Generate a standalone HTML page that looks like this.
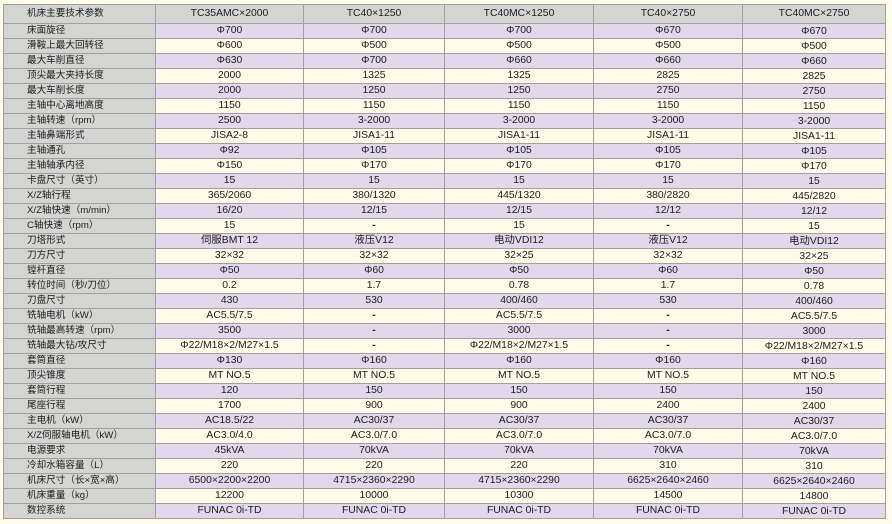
<!DOCTYPE html>
<html><head><meta charset="utf-8">
<style>
html,body{margin:0;padding:0;background:#fffbe8;}
body{width:892px;height:524px;position:relative;overflow:hidden;
font-family:"Liberation Sans","Noto Sans CJK SC",sans-serif;font-size:10.4px;color:#1c1c1c;}
#t{position:absolute;left:3px;top:4px;width:882px;border-left:1px solid #a0a0a0;border-top:1px solid #a0a0a0;}
.r{display:grid;grid-template-columns:152px 148px 141px 149px 149px 143px;height:15px;}
.r>div{box-sizing:border-box;border-right:1px solid #a0a0a0;border-bottom:1px solid #a0a0a0;height:15px;line-height:14px;text-align:center;white-space:nowrap;overflow:hidden;}
.r>div:first-child{text-align:left;padding-left:23px;background:#d4d4d2 !important;font-size:9.6px;}
.r.h{height:19px;}
.r.h>div{height:19px;line-height:18px;background:#d4d4d2 !important;}
.r:nth-child(even)>div{background:#e2d8ec;}
.r:nth-child(odd)>div{background:#fffbe8;}
.r>div:last-child{line-height:15px;}
.r.h>div:last-child{line-height:18px;}
b{font-weight:bold;}
</style></head><body>
<div id="t">
<div class="r h"><div>机床主要技术参数</div><div>TC35AMC×2000</div><div>TC40×1250</div><div>TC40MC×1250</div><div>TC40×2750</div><div>TC40MC×2750</div></div>
<div class="r"><div>床面旋径</div><div>Φ700</div><div>Φ700</div><div>Φ700</div><div>Φ670</div><div>Φ670</div></div>
<div class="r"><div>滑鞍上最大回转径</div><div>Φ600</div><div>Φ500</div><div>Φ500</div><div>Φ500</div><div>Φ500</div></div>
<div class="r"><div>最大车削直径</div><div>Φ630</div><div>Φ700</div><div>Φ660</div><div>Φ660</div><div>Φ660</div></div>
<div class="r"><div>顶尖最大夹持长度</div><div>2000</div><div>1325</div><div>1325</div><div>2825</div><div>2825</div></div>
<div class="r"><div>最大车削长度</div><div>2000</div><div>1250</div><div>1250</div><div>2750</div><div>2750</div></div>
<div class="r"><div>主轴中心离地高度</div><div>1150</div><div>1150</div><div>1150</div><div>1150</div><div>1150</div></div>
<div class="r"><div>主轴转速（rpm）</div><div>2500</div><div>3-2000</div><div>3-2000</div><div>3-2000</div><div>3-2000</div></div>
<div class="r"><div>主轴鼻端形式</div><div>JISA2-8</div><div>JISA1-11</div><div>JISA1-11</div><div>JISA1-11</div><div>JISA1-11</div></div>
<div class="r"><div>主轴通孔</div><div>Φ92</div><div>Φ105</div><div>Φ105</div><div>Φ105</div><div>Φ105</div></div>
<div class="r"><div>主轴轴承内径</div><div>Φ150</div><div>Φ170</div><div>Φ170</div><div>Φ170</div><div>Φ170</div></div>
<div class="r"><div>卡盘尺寸（英寸）</div><div>15</div><div>15</div><div>15</div><div>15</div><div>15</div></div>
<div class="r"><div>X/Z轴行程</div><div>365/2060</div><div>380/1320</div><div>445/1320</div><div>380/2820</div><div>445/2820</div></div>
<div class="r"><div>X/Z轴快速（m/min）</div><div>16/20</div><div>12/15</div><div>12/15</div><div>12/12</div><div>12/12</div></div>
<div class="r"><div>C轴快速（rpm）</div><div>15</div><div><b>-</b></div><div>15</div><div><b>-</b></div><div>15</div></div>
<div class="r"><div>刀塔形式</div><div>伺服BMT 12</div><div>液压V12</div><div>电动VDI12</div><div>液压V12</div><div>电动VDI12</div></div>
<div class="r"><div>刀方尺寸</div><div>32×32</div><div>32×32</div><div>32×25</div><div>32×32</div><div>32×25</div></div>
<div class="r"><div>镗杆直径</div><div>Φ50</div><div>Φ60</div><div>Φ50</div><div>Φ60</div><div>Φ50</div></div>
<div class="r"><div>转位时间（秒/刀位）</div><div>0.2</div><div>1.7</div><div>0.78</div><div>1.7</div><div>0.78</div></div>
<div class="r"><div>刀盘尺寸</div><div>430</div><div>530</div><div>400/460</div><div>530</div><div>400/460</div></div>
<div class="r"><div>铣轴电机（kW）</div><div>AC5.5/7.5</div><div><b>-</b></div><div>AC5.5/7.5</div><div><b>-</b></div><div>AC5.5/7.5</div></div>
<div class="r"><div>铣轴最高转速（rpm）</div><div>3500</div><div><b>-</b></div><div>3000</div><div><b>-</b></div><div>3000</div></div>
<div class="r"><div>铣轴最大钻/攻尺寸</div><div>Φ22/M18×2/M27×1.5</div><div><b>-</b></div><div>Φ22/M18×2/M27×1.5</div><div><b>-</b></div><div>Φ22/M18×2/M27×1.5</div></div>
<div class="r"><div>套筒直径</div><div>Φ130</div><div>Φ160</div><div>Φ160</div><div>Φ160</div><div>Φ160</div></div>
<div class="r"><div>顶尖锥度</div><div>MT NO.5</div><div>MT NO.5</div><div>MT NO.5</div><div>MT NO.5</div><div>MT NO.5</div></div>
<div class="r"><div>套筒行程</div><div>120</div><div>150</div><div>150</div><div>150</div><div>150</div></div>
<div class="r"><div>尾座行程</div><div>1700</div><div>900</div><div>900</div><div>2400</div><div>2400</div></div>
<div class="r"><div>主电机（kW）</div><div>AC18.5/22</div><div>AC30/37</div><div>AC30/37</div><div>AC30/37</div><div>AC30/37</div></div>
<div class="r"><div>X/Z伺服轴电机（kW）</div><div>AC3.0/4.0</div><div>AC3.0/7.0</div><div>AC3.0/7.0</div><div>AC3.0/7.0</div><div>AC3.0/7.0</div></div>
<div class="r"><div>电源要求</div><div>45kVA</div><div>70kVA</div><div>70kVA</div><div>70kVA</div><div>70kVA</div></div>
<div class="r"><div>冷却水箱容量（L）</div><div>220</div><div>220</div><div>220</div><div>310</div><div>310</div></div>
<div class="r"><div>机床尺寸（长×宽×高）</div><div>6500×2200×2200</div><div>4715×2360×2290</div><div>4715×2360×2290</div><div>6625×2640×2460</div><div>6625×2640×2460</div></div>
<div class="r"><div>机床重量（kg）</div><div>12200</div><div>10000</div><div>10300</div><div>14500</div><div>14800</div></div>
<div class="r"><div>数控系统</div><div>FUNAC 0i-TD</div><div>FUNAC 0i-TD</div><div>FUNAC 0i-TD</div><div>FUNAC 0i-TD</div><div>FUNAC 0i-TD</div></div>
</div>
</body></html>
